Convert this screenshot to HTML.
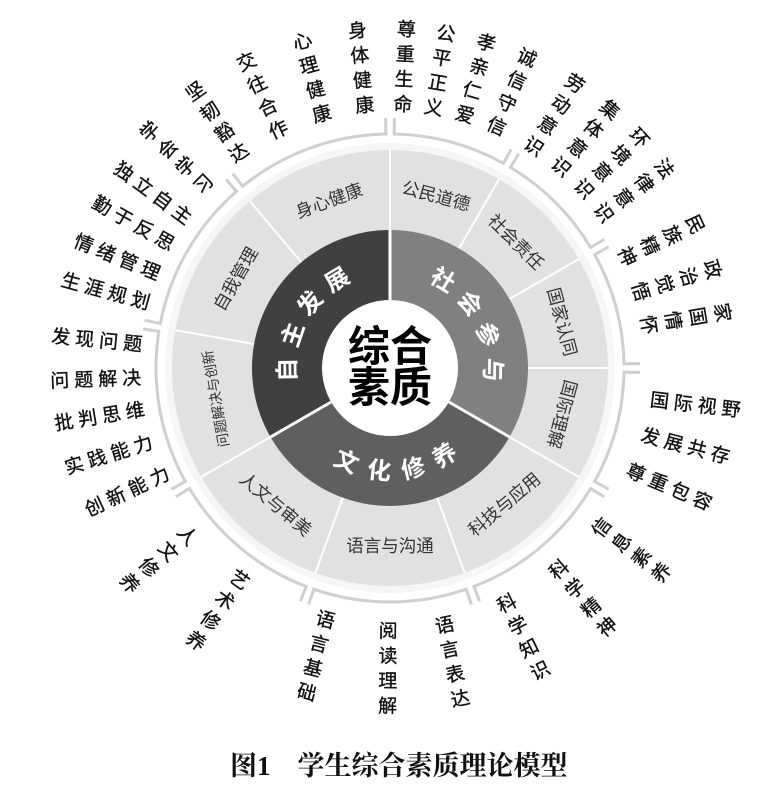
<!DOCTYPE html>
<html><head><meta charset="utf-8">
<style>
html,body{margin:0;padding:0;background:#fff;}
svg{display:block;}
.o{font-family:"Liberation Sans","Noto Sans CJK SC",sans-serif;font-size:19px;fill:#111;stroke:#111;stroke-width:0.35px;text-anchor:middle;}
.h{font-family:"Liberation Sans","Noto Sans CJK SC",sans-serif;font-size:19px;fill:#111;stroke:#111;stroke-width:0.35px;letter-spacing:5px;}
.r{font-family:"Liberation Sans","Noto Sans CJK SC",sans-serif;font-size:17.5px;fill:#333;text-anchor:middle;}
.i{font-family:"Liberation Sans","Noto Sans CJK SC",sans-serif;font-size:24px;font-weight:bold;fill:#fff;text-anchor:middle;}
.c{font-family:"Liberation Sans","Noto Sans CJK SC",sans-serif;font-size:42px;font-weight:bold;fill:#000;text-anchor:middle;}
.t{font-family:"Liberation Serif","Noto Serif CJK SC",serif;font-size:27px;font-weight:bold;fill:#111;}
</style></head><body>
<svg width="762" height="800" viewBox="0 0 762 800" xmlns="http://www.w3.org/2000/svg">
<rect width="762" height="800" fill="#fff"/>
<g fill="none" stroke="#cfcfcf" stroke-width="3">
<path d="M394.4,118 L394.1,134 A234,234 0 0 1 503.4,163.3 L511.2,149.4"/>
<path d="M518.8,153.7 L510.5,167.4 A234,234 0 0 1 590.6,247.5 L604.3,239.3"/>
<path d="M608.7,246.8 L594.7,254.6 A234,234 0 0 1 624,363.9 L640,363.6"/>
<path d="M640,372.4 L624,372.1 A234,234 0 0 1 594.7,481.4 L608.7,489.2"/>
<path d="M604.3,496.8 L590.6,488.5 A234,234 0 0 1 473.9,586.5 L479.6,601.4"/>
<path d="M471.4,604.4 L466.2,589.2 A234,234 0 0 1 313.8,589.2 L308.6,604.4"/>
<path d="M300.4,601.4 L306.1,586.5 A234,234 0 0 1 189.4,488.5 L175.7,496.8"/>
<path d="M171.4,489.2 L185.3,481.4 A234,234 0 0 1 158.9,331.4 L143.1,328.9"/>
<path d="M144.6,320.3 L160.3,323.4 A234,234 0 0 1 236.5,191.4 L226,179.3"/>
<path d="M232.7,173.7 L242.7,186.2 A234,234 0 0 1 385.9,134 L385.6,118"/>
</g>
<circle cx="390" cy="368" r="225" fill="#f6f6f6"/>
<circle cx="390" cy="368" r="218" fill="#e1e1e1"/>
<path d="M390,368 L390,230 A138,138 0 0 1 509.5,437 Z" fill="#808080"/>
<path d="M390,368 L509.5,437 A138,138 0 0 1 270.5,437 Z" fill="#5f5f5f"/>
<path d="M390,368 L270.5,437 A138,138 0 0 1 390,230 Z" fill="#404040"/>
<circle cx="390" cy="368" r="68" fill="#fff"/>
<g stroke="#fff" stroke-width="2">
<line x1="390" y1="230" x2="390" y2="150"/>
<line x1="459" y1="248.5" x2="499" y2="179.2"/>
<line x1="509.5" y1="299" x2="578.8" y2="259"/>
<line x1="528" y1="368" x2="608" y2="368"/>
<line x1="509.5" y1="437" x2="578.8" y2="477"/>
<line x1="437.2" y1="497.7" x2="464.6" y2="572.9"/>
<line x1="342.8" y1="497.7" x2="315.4" y2="572.9"/>
<line x1="270.5" y1="437" x2="201.2" y2="477"/>
<line x1="254.1" y1="344" x2="175.3" y2="330.2"/>
<line x1="301.3" y1="262.3" x2="249.9" y2="201"/>
</g>
<g stroke="#fff" stroke-width="3">
<line x1="390" y1="300" x2="390" y2="230"/>
<line x1="448.9" y1="402" x2="509.5" y2="437"/>
<line x1="331.1" y1="402" x2="270.5" y2="437"/>
</g>
<text class="c" x="390" y="361">综合</text>
<text class="c" x="390" y="402">素质</text>
<g transform="rotate(269 390 368)"><text class="i" x="390" y="273.5">自</text></g>
<g transform="rotate(289 390 368)"><text class="i" x="390" y="273.5">主</text></g>
<g transform="rotate(309 390 368)"><text class="i" x="390" y="273.5">发</text></g>
<g transform="rotate(329 390 368)"><text class="i" x="390" y="273.5">展</text></g>
<g transform="rotate(31 390 368)"><text class="i" x="390" y="273.5">社</text></g>
<g transform="rotate(51 390 368)"><text class="i" x="390" y="273.5">会</text></g>
<g transform="rotate(71 390 368)"><text class="i" x="390" y="273.5">参</text></g>
<g transform="rotate(91 390 368)"><text class="i" x="390" y="273.5">与</text></g>
<g transform="rotate(25 390 368)"><text class="i" x="390" y="479.5">文</text></g>
<g transform="rotate(6 390 368)"><text class="i" x="390" y="479.5">化</text></g>
<g transform="rotate(-13 390 368)"><text class="i" x="390" y="479.5">修</text></g>
<g transform="rotate(-32 390 368)"><text class="i" x="390" y="479.5">养</text></g>
<g transform="rotate(15 390 368)"><text class="r" x="390" y="196">公民道德</text></g>
<g transform="rotate(45 390 368)"><text class="r" x="390" y="196">社会责任</text></g>
<g transform="rotate(75 390 368)"><text class="r" x="390" y="196">国家认同</text></g>
<g transform="rotate(105 390 368)"><text class="r" x="390" y="196">国际理解</text></g>
<g transform="rotate(-40 390 368)"><text class="r" x="390" y="552">科技与应用</text></g>
<g transform="rotate(0 390 368)"><text class="r" x="390" y="552">语言与沟通</text></g>
<g transform="rotate(40 390 368)"><text class="r" x="390" y="552">人文与审美</text></g>
<g transform="rotate(-100 390 368)"><text class="r" x="390" y="196" style="font-size:14px">问题解决与创新</text></g>
<g transform="rotate(-60 390 368)"><text class="r" x="390" y="196">自我管理</text></g>
<g transform="rotate(-20 390 368)"><text class="r" x="390" y="196">身心健康</text></g>
<g transform="rotate(2.8 390 368)"><text class="o"><tspan x="390" y="35.5">尊</tspan><tspan x="390" y="60.5">重</tspan><tspan x="390" y="85.5">生</tspan><tspan x="390" y="110.5">命</tspan></text></g>
<g transform="rotate(9.5 390 368)"><text class="o"><tspan x="390" y="35.5">公</tspan><tspan x="390" y="60.5">平</tspan><tspan x="390" y="85.5">正</tspan><tspan x="390" y="110.5">义</tspan></text></g>
<g transform="rotate(16.5 390 368)"><text class="o"><tspan x="390" y="35.5">孝</tspan><tspan x="390" y="60.5">亲</tspan><tspan x="390" y="85.5">仁</tspan><tspan x="390" y="110.5">爱</tspan></text></g>
<g transform="rotate(23.8 390 368)"><text class="o"><tspan x="390" y="35.5">诚</tspan><tspan x="390" y="60.5">信</tspan><tspan x="390" y="85.5">守</tspan><tspan x="390" y="110.5">信</tspan></text></g>
<g transform="rotate(33 390 368)"><text class="o"><tspan x="390" y="35.5">劳</tspan><tspan x="390" y="60.5">动</tspan><tspan x="390" y="85.5">意</tspan><tspan x="390" y="110.5">识</tspan></text></g>
<g transform="rotate(40.4 390 368)"><text class="o"><tspan x="390" y="35.5">集</tspan><tspan x="390" y="60.5">体</tspan><tspan x="390" y="85.5">意</tspan><tspan x="390" y="110.5">识</tspan></text></g>
<g transform="rotate(47.3 390 368)"><text class="o"><tspan x="390" y="35.5">环</tspan><tspan x="390" y="60.5">境</tspan><tspan x="390" y="85.5">意</tspan><tspan x="390" y="110.5">识</tspan></text></g>
<g transform="rotate(54 390 368)"><text class="o"><tspan x="390" y="35.5">法</tspan><tspan x="390" y="60.5">律</tspan><tspan x="390" y="85.5">意</tspan><tspan x="390" y="110.5">识</tspan></text></g>
<g transform="rotate(64.8 390 368)"><text class="o"><tspan x="390" y="37.5">民</tspan><tspan x="390" y="62.5">族</tspan><tspan x="390" y="87.5">精</tspan><tspan x="390" y="112.5">神</tspan></text></g>
<g transform="rotate(73 390 368)"><text class="o"><tspan x="390" y="37.5">政</tspan><tspan x="390" y="62.5">治</tspan><tspan x="390" y="87.5">觉</tspan><tspan x="390" y="112.5">悟</tspan></text></g>
<g transform="rotate(80.5 390 368)"><text class="o"><tspan x="390" y="37.5">家</tspan><tspan x="390" y="62.5">国</tspan><tspan x="390" y="87.5">情</tspan><tspan x="390" y="112.5">怀</tspan></text></g>
<g transform="rotate(-5.5 390 368)"><text class="o"><tspan x="390" y="35.5">身</tspan><tspan x="390" y="60.5">体</tspan><tspan x="390" y="85.5">健</tspan><tspan x="390" y="110.5">康</tspan></text></g>
<g transform="rotate(-15 390 368)"><text class="o"><tspan x="390" y="36.5">心</tspan><tspan x="390" y="61.5">理</tspan><tspan x="390" y="86.5">健</tspan><tspan x="390" y="111.5">康</tspan></text></g>
<g transform="rotate(-25.1 390 368)"><text class="o"><tspan x="390" y="36.5">交</tspan><tspan x="390" y="61.5">往</tspan><tspan x="390" y="86.5">合</tspan><tspan x="390" y="111.5">作</tspan></text></g>
<g transform="rotate(-35.1 390 368)"><text class="o"><tspan x="390" y="36.5">坚</tspan><tspan x="390" y="61.5">韧</tspan><tspan x="390" y="86.5">豁</tspan><tspan x="390" y="111.5">达</tspan></text></g>
<g transform="rotate(-45.4 390 368)"><text class="o"><tspan x="390" y="37.5">学</tspan><tspan x="390" y="62.5">会</tspan><tspan x="390" y="87.5">学</tspan><tspan x="390" y="112.5">习</tspan></text></g>
<g transform="rotate(36.5 390 368)"><text class="h" x="50" y="375">独立自主</text></g>
<g transform="rotate(29.5 390 368)"><text class="h" x="50" y="375">勤于反思</text></g>
<g transform="rotate(22.2 390 368)"><text class="h" x="50" y="375">情绪管理</text></g>
<g transform="rotate(15.2 390 368)"><text class="h" x="50" y="375">生涯规划</text></g>
<g transform="rotate(5.5 390 368)"><text class="h" x="50" y="375">发现问题</text></g>
<g transform="rotate(-2.1 390 368)"><text class="h" x="50" y="375">问题解决</text></g>
<g transform="rotate(-9.4 390 368)"><text class="h" x="50" y="375">批判思维</text></g>
<g transform="rotate(-17.1 390 368)"><text class="h" x="50" y="375">实践能力</text></g>
<g transform="rotate(-25.1 390 368)"><text class="h" x="54" y="375">创新能力</text></g>
<g transform="rotate(6.8 390 368)"><text class="h" x="652" y="375">国际视野</text></g>
<g transform="rotate(14.7 390 368)"><text class="h" x="650" y="375">发展共存</text></g>
<g transform="rotate(23 390 368)"><text class="h" x="648" y="375">尊重包容</text></g>
<g transform="rotate(-53 390 368)"><text class="o"><tspan x="390" y="639.5">信</tspan><tspan x="390" y="664.5">息</tspan><tspan x="390" y="689.5">素</tspan><tspan x="390" y="714.5">养</tspan></text></g>
<g transform="rotate(-40 390 368)"><text class="o"><tspan x="390" y="637.5">科</tspan><tspan x="390" y="662.5">学</tspan><tspan x="390" y="687.5">精</tspan><tspan x="390" y="712.5">神</tspan></text></g>
<g transform="rotate(-26.4 390 368)"><text class="o"><tspan x="390" y="637.5">科</tspan><tspan x="390" y="662.5">学</tspan><tspan x="390" y="687.5">知</tspan><tspan x="390" y="712.5">识</tspan></text></g>
<g transform="rotate(-12 390 368)"><text class="o"><tspan x="390" y="637.5">语</tspan><tspan x="390" y="662.5">言</tspan><tspan x="390" y="687.5">表</tspan><tspan x="390" y="712.5">达</tspan></text></g>
<g transform="rotate(0.4 390 368)"><text class="o"><tspan x="390" y="637.5">阅</tspan><tspan x="390" y="662.5">读</tspan><tspan x="390" y="687.5">理</tspan><tspan x="390" y="712.5">解</tspan></text></g>
<g transform="rotate(14.4 390 368)"><text class="o"><tspan x="390" y="634.5">语</tspan><tspan x="390" y="659.5">言</tspan><tspan x="390" y="684.5">基</tspan><tspan x="390" y="709.5">础</tspan></text></g>
<g transform="rotate(35.4 390 368)"><text class="o"><tspan x="390" y="634.5">艺</tspan><tspan x="390" y="659.5">术</tspan><tspan x="390" y="684.5">修</tspan><tspan x="390" y="709.5">养</tspan></text></g>
<g transform="rotate(50.4 390 368)"><text class="o"><tspan x="390" y="637.5">人</tspan><tspan x="390" y="662.5">文</tspan><tspan x="390" y="687.5">修</tspan><tspan x="390" y="712.5">养</tspan></text></g>
<text class="t" x="230" y="775">图1　学生综合素质理论模型</text>
</svg>
</body></html>
